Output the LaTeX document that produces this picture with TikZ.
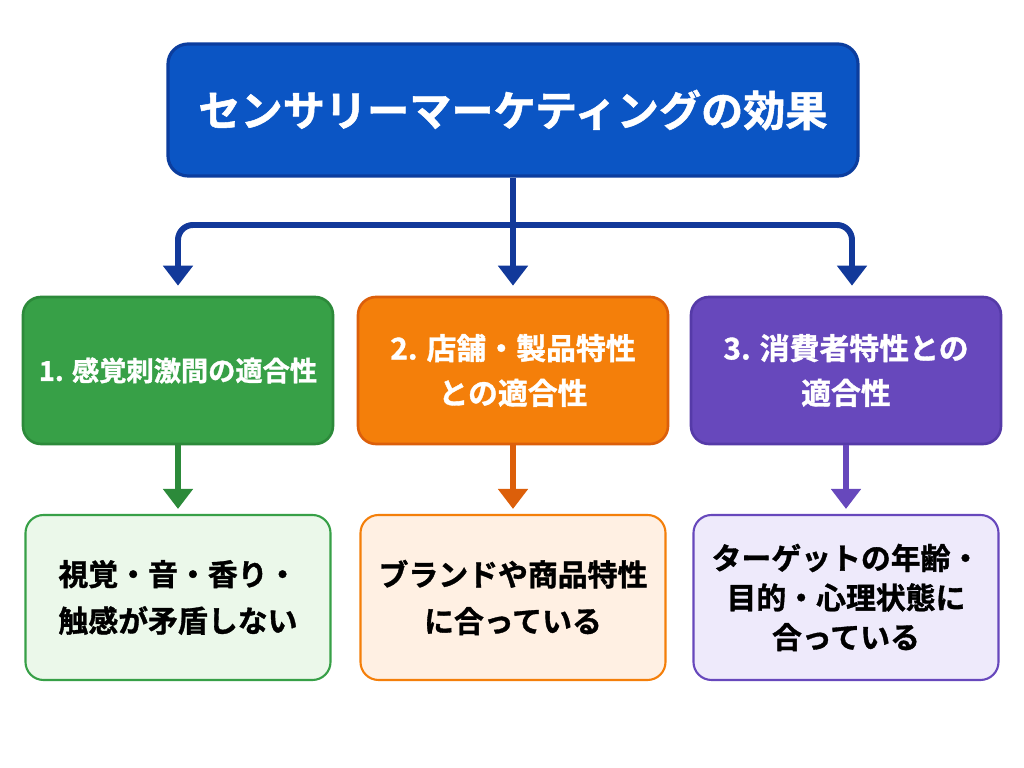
\documentclass[tikz,border=0pt]{standalone}
\usepackage{fontspec}
\usepackage{xcolor}
\usepackage{tikz}
\usetikzlibrary{arrows.meta}

\newfontfamily\jpfont{Noto Sans CJK JP}[BoldFont={* Bold}, BoldFeatures={FakeBold=1.2}]

\definecolor{azulTit}{HTML}{0B55C4}
\definecolor{azulBorde}{HTML}{0B3D9E}
\definecolor{azulFlecha}{HTML}{12399A}
\definecolor{verde}{HTML}{37A047}
\definecolor{verdeBorde}{HTML}{2C8A3A}
\definecolor{verdeClaro}{HTML}{EBF8EA}
\definecolor{naranja}{HTML}{F47F0A}
\definecolor{naranjaBorde}{HTML}{DC5F0A}
\definecolor{naranjaClaro}{HTML}{FFF0E3}
\definecolor{morado}{HTML}{6748BC}
\definecolor{moradoBorde}{HTML}{553AA8}
\definecolor{moradoClaro}{HTML}{EEEAFB}

\tikzset{
  caja/.style={draw, rounded corners=0.36cm, line width=1.5pt, minimum width=6.2cm,
    minimum height=2.94cm, align=center, text=white,
    font=\jpfont\bfseries\fontsize{17}{25.5}\selectfont},
  hoja/.style={draw, rounded corners=0.36cm, line width=1.2pt, minimum width=6.1cm,
    minimum height=3.3cm, align=center, text=black,
    font=\jpfont\bfseries\fontsize{17}{26.5}\selectfont},
  flecha/.style={line width=3.4pt, -{Triangle[width=0.58cm,length=0.4cm]}}
}

\begin{document}
\begin{tikzpicture}
  \useasboundingbox[fill=white] (0,0) rectangle (20.48,15.36);

  % Titulo (caja azul)
  \node[draw=azulBorde, fill=azulTit, line width=1.8pt, rounded corners=0.4cm,
        minimum width=13.8cm, minimum height=2.64cm, text=white,
        font=\jpfont\bfseries\fontsize{24}{28}\selectfont]
        (titulo) at (10.26, 13.16) {センサリーマーケティングの効果};

  % Tres factores
  \node[caja, draw=verdeBorde, fill=verde, font=\jpfont\bfseries\fontsize{15.5}{25.5}\selectfont]
        (factor1) at (3.56, 7.95) {1. 感覚刺激間の適合性};
  \node[caja, draw=naranjaBorde, fill=naranja] (factor2) at (10.26, 7.95) {2. 店舗・製品特性\\との適合性};
  \node[caja, draw=moradoBorde, fill=morado] (factor3) at (16.92, 7.95) {3. 消費者特性との\\適合性};

  % Explicaciones
  \node[hoja, draw=verde, fill=verdeClaro] (nota1) at (3.56, 3.41) {視覚・音・香り・\\触感が矛盾しない};
  \node[hoja, draw=naranja, fill=naranjaClaro] (nota2) at (10.26, 3.41) {ブランドや商品特性\\に合っている};
  \node[hoja, draw=morado, fill=moradoClaro, font=\jpfont\bfseries\fontsize{17}{22.5}\selectfont]
        (nota3) at (16.92, 3.41) {ターゲットの年齢・\\目的・心理状態に\\合っている};

  % Ramas desde el titulo
  \coordinate (rama) at (10.26, 10.86);
  \draw[flecha, color=azulFlecha, shorten >=0.2cm] (titulo.south) -- (factor2.north);
  \draw[flecha, color=azulFlecha, rounded corners=0.3cm, shorten >=0.2cm] (rama) -| (factor1.north);
  \draw[flecha, color=azulFlecha, rounded corners=0.3cm, shorten >=0.2cm] (rama) -| ([xshift=0.12cm]factor3.north);

  % Flechas hacia las explicaciones
  \draw[flecha, color=verdeBorde, shorten >=0.1cm] (factor1.south) -- (nota1.north);
  \draw[flecha, color=naranjaBorde, shorten >=0.1cm] (factor2.south) -- (nota2.north);
  \draw[flecha, color=morado, shorten >=0.1cm] (factor3.south) -- (nota3.north);
\end{tikzpicture}
\end{document}
